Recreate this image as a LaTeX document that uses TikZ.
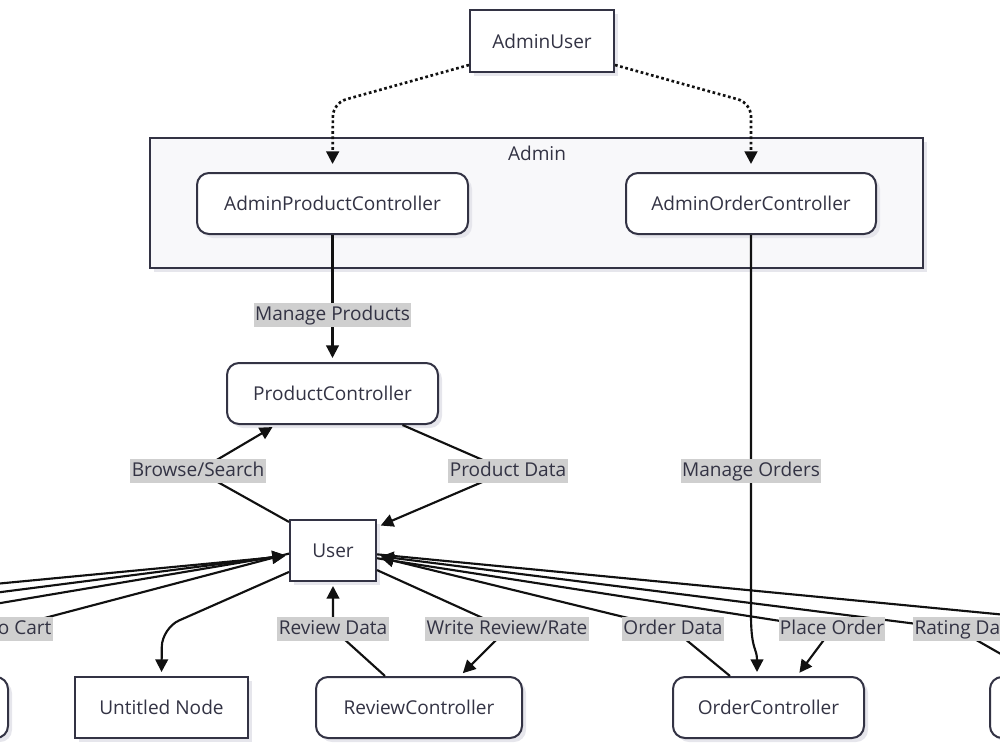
\documentclass[tikz,border=0pt]{standalone}
\usepackage{fontspec}
\setmainfont{Open Sans}
\usetikzlibrary{arrows.meta,calc,shadows}
\definecolor{ink}{HTML}{333344}
\definecolor{edge}{HTML}{111111}
\definecolor{lblbg}{HTML}{CFCFCF}
\definecolor{clbg}{HTML}{F8F8FA}
\definecolor{shade}{HTML}{E6E6EC}
\tikzset{
  base/.style={draw=ink, line width=1.5pt, fill=white, text=ink, inner sep=0pt,
    minimum height=45.75pt, drop shadow={shadow xshift=3pt, shadow yshift=-3pt, fill=shade, opacity=1}},
  sq/.style={base},
  rnd/.style={base, rounded corners=9pt},
  lbl/.style={fill=lblbg, text=ink, inner xsep=1pt, inner ysep=0pt, minimum height=18pt, text height=10.5pt, text depth=3pt},
  ln/.style={draw=edge, line width=1.6pt},
  arr/.style={ln, -{Triangle[length=9.5pt,width=9.5pt]}, shorten >=3pt},
  dot/.style={draw=edge, line width=2pt, dash pattern=on 2pt off 2pt, -{Triangle[length=9.5pt,width=9.5pt]}, shorten >=6pt}
}
\begin{document}
\begin{tikzpicture}[x=0.75pt,y=-0.75pt, font=\fontsize{14.3}{17}\selectfont]
\useasboundingbox (0,0) rectangle (1000,750);
\clip (0,0) rectangle (1000,750);
% cluster
\node[draw=ink, line width=1.5pt, fill=clbg, minimum width=579.75pt, minimum height=97.5pt, inner sep=0pt,
  drop shadow={shadow xshift=3pt, shadow yshift=-3pt, fill=shade, opacity=1}] (cl) at (536.5,203) {};
\node[text=ink, anchor=center] (cllbl) at (537,153) {Admin};
% nodes
\node[sq, minimum width=108pt, minimum height=46.5pt] (AU) at (542,41) {AdminUser};
\node[rnd, minimum width=203.25pt] (APC) at (332.5,203.5) {AdminProductController};
\node[rnd, minimum width=187.5pt] (AOC) at (751,203.5) {AdminOrderController};
\node[rnd, minimum width=158.25pt] (PC) at (332.5,393.5) {ProductController};
\node[sq, minimum width=64.5pt] (U) at (333,550.5) {User};
\node[sq, minimum width=129.75pt] (UN) at (161.5,707.5) {Untitled Node};
\node[rnd, minimum width=154.5pt] (RC) at (419,707.5) {ReviewController};
\node[rnd, minimum width=143.25pt] (OC) at (768.5,707.5) {OrderController};
\node[rnd, minimum width=156pt] (LN) at (-96,707.5) {};
\node[rnd, minimum width=156pt] (RN) at (1094,707.5) {};
% off-screen ends
\coordinate (L1) at (-100,593);
\coordinate (L2) at (-100,605);
\coordinate (L3) at (-100,620);
\coordinate (L4) at (-100,640);
\coordinate (RA) at (1100,624);
% dotted admin edges
\draw[dot, rounded corners=10pt] ($(AU.south west)+(0,-8)$) -- (333,103) -- (APC.north);
\draw[dot, rounded corners=10pt] ($(AU.south east)+(0,-8)$) -- (751,103) -- (AOC.north);
% straight edges
\draw[arr] (APC.south) -- (PC.north);
\draw[arr] (AOC.south) -- (751,615) .. controls (751,650) and (757,648) .. ($(OC.north)+(-11.5,0)$);
% product
\draw[arr] (U.147) -- (198,471) -- ($(PC.south)+(-56.5,0)$);
\draw[arr] ($(PC.south)+(70,0)$) -- (508,471) -- (U.28);
% review
\draw[arr] ($(RC.north)+(-34,0)$) -- (333,629) -- (U.south);
\draw[arr] (U.336) -- (507,629) -- ($(RC.north)+(41,0)$);
% order
\draw[arr] ($(OC.north)+(-38.5,0)$) -- (673,629) -- (U.352);
\draw[arr] (U.350) -- (832,629) -- ($(OC.north)+(28.5,0)$);
% rating and further right
\draw[arr] (RN.150) -- (957,629) -- (U.353);
\draw[ln] (U.355) -- (RA);
% left side
\draw[arr] (L1) -- (U.187);
\draw[arr] (L2) -- (U.186);
\draw[arr] (L3) -- (U.185);
\draw[ln] (U.184) -- (3,629) -- (L4);
% untitled
\draw[arr, rounded corners=14pt] (U.206) -- (162,628) -- (UN.north);
% labels
\node[lbl] (l1) at (332.5,315) {Manage Products};
\node[lbl] (l2) at (751,471) {Manage Orders};
\node[lbl] (l3) at (198,471) {Browse/Search};
\node[lbl] (l4) at (508,471) {Product Data};
\node[lbl] (l5) at (333,629) {Review Data};
\node[lbl] (l6) at (507,629) {Write Review/Rate};
\node[lbl] (l7) at (673,629) {Order Data};
\node[lbl] (l8) at (832,629) {Place Order};
\node[lbl, anchor=west] (l9) at (913,629) {Rating Data};
\node[lbl, anchor=east] (l10) at (53,629) {Add to Cart};
\end{tikzpicture}
\end{document}
